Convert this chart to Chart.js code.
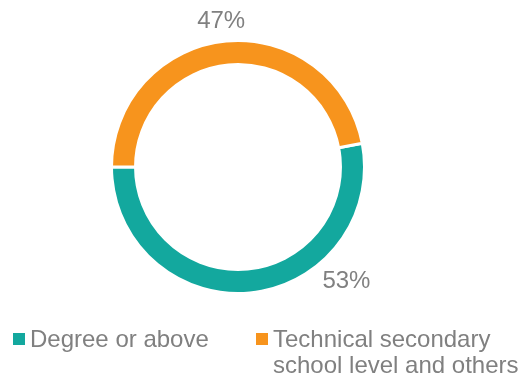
<!DOCTYPE html>
<html lang="en">
<head>
<meta charset="UTF-8">
<title>Education level</title>
<script src="https://cdn.jsdelivr.net/npm/chart.js"></script>
<style>
  html, body { margin: 0; padding: 0; background: #fff; }
  #wrap { position: relative; width: 524px; height: 382px; }
  #chart { position: absolute; left: 0; top: 0; }
  .legend { position: absolute; font-family: "Liberation Sans", Arial, sans-serif; font-size: 24px; color: #808080; line-height: 26px; white-space: nowrap; }
  .legend .box { position: absolute; left: 0; top: 7px; width: 12px; height: 12px; }
  .legend .txt { margin-left: 17px; }
</style>
</head>
<body>
<div id="wrap">
  <canvas id="chart" width="524" height="382"></canvas>
  <div class="legend" style="left:13px; top:326px;">
    <span class="box" style="background:#13a89e"></span><div class="txt" id="lg0"></div>
  </div>
  <div class="legend" style="left:256px; top:326px;">
    <span class="box" style="background:#f7941d"></span><div class="txt" id="lg1"></div>
  </div>
</div>
<script>
// data
const categories = ['Degree or above', ['Technical secondary', 'school level and others']];
const shares = [53, 47];
const colors = ['#13a89e', '#f7941d'];

document.getElementById('lg0').innerHTML = [].concat(categories[0]).join('<br>');
document.getElementById('lg1').innerHTML = [].concat(categories[1]).join('<br>');

// percentage labels placed outside the ring
const outsideLabels = {
  id: 'outsideLabels',
  afterDatasetsDraw(chart, args, opts) {
    const ctx = chart.ctx;
    const meta = chart.getDatasetMeta(0);
    ctx.save();
    ctx.font = '24px "Liberation Sans", Arial, sans-serif';
    ctx.fillStyle = '#808080';
    ctx.textAlign = 'center';
    ctx.textBaseline = 'middle';
    meta.data.forEach(function(arc, i) {
      const a = (opts.angles[i] - 90) * Math.PI / 180;
      const r = arc.outerRadius + opts.offsets[i];
      ctx.fillText(shares[i] + '%', arc.x + Math.cos(a) * r, arc.y + Math.sin(a) * r);
    });
    ctx.restore();
  }
};

new Chart(document.getElementById('chart'), {
  type: 'doughnut',
  data: {
    labels: categories,
    datasets: [{
      data: shares,
      backgroundColor: colors,
      borderColor: '#ffffff',
      borderWidth: 3
    }]
  },
  options: {
    responsive: false,
    animation: false,
    rotation: 79.2,
    cutout: '81%',
    layout: { padding: { left: 110, right: 158, top: 39, bottom: 87 } },
    plugins: {
      legend: { display: false },
      tooltip: { enabled: false },
      outsideLabels: { angles: [136.5, 353.4], offsets: [31, 20] }
    }
  },
  plugins: [outsideLabels]
});
</script>
</body>
</html>
